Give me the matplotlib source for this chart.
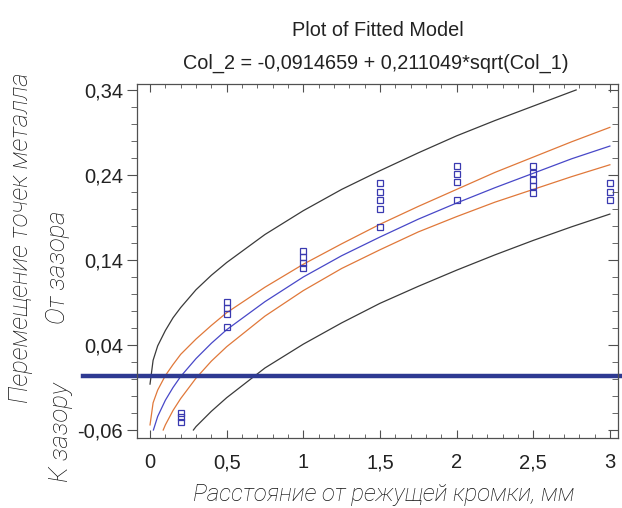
import matplotlib
matplotlib.use("Agg")
import matplotlib.pyplot as plt
from matplotlib.ticker import FixedLocator, MultipleLocator

# measured points (Col_1, Col_2)
pts_x = [0.2, 0.2, 0.2,
         0.5, 0.5, 0.5, 0.5,
         1, 1, 1, 1,
         1.5, 1.5, 1.5, 1.5, 1.5,
         2, 2, 2, 2,
         2.5, 2.5, 2.5, 2.5, 2.5,
         3, 3, 3]
pts_y = [-0.040, -0.045, -0.051,
         0.091, 0.083, 0.076, 0.061,
         0.150, 0.143, 0.137, 0.130,
         0.230, 0.220, 0.210, 0.200, 0.179,
         0.250, 0.241, 0.232, 0.211,
         0.250, 0.242, 0.234, 0.227, 0.219,
         0.230, 0.220, 0.210]

# fitted line
fit_x = [0.022, 0.05, 0.1, 0.15, 0.2, 0.3, 0.4, 0.5, 0.75, 1, 1.25, 1.5, 1.75, 2, 2.25, 2.5, 2.75, 3]
fit_y = [-0.06, -0.044, -0.025, -0.010, 0.003, 0.024, 0.042, 0.058, 0.091, 0.120, 0.145, 0.167,
         0.188, 0.207, 0.225, 0.242, 0.259, 0.274]

# confidence limits (orange)
conf_hi_x = [0, 0.02, 0.05, 0.1, 0.15, 0.2, 0.3, 0.4, 0.5, 0.75, 1, 1.25, 1.5, 1.75, 2, 2.25, 2.5, 2.75, 3]
conf_hi_y = [-0.054, -0.028, -0.013, 0.004, 0.017, 0.029, 0.047, 0.063, 0.078, 0.108, 0.135, 0.159,
             0.182, 0.203, 0.223, 0.243, 0.261, 0.279, 0.296]
conf_lo_x = [0.086, 0.1, 0.15, 0.2, 0.3, 0.4, 0.5, 0.75, 1, 1.25, 1.5, 1.75, 2, 2.25, 2.5, 2.75, 3]
conf_lo_y = [-0.06, -0.054, -0.037, -0.023, 0.001, 0.021, 0.038, 0.074, 0.104, 0.130, 0.152, 0.173,
             0.191, 0.208, 0.223, 0.238, 0.252]

# prediction limits (black)
pred_hi_x = [0, 0.02, 0.05, 0.1, 0.15, 0.2, 0.3, 0.4, 0.5, 0.75, 1, 1.25, 1.5, 1.75, 2, 2.25, 2.5, 2.75, 2.78]
pred_hi_y = [-0.006, 0.022, 0.039, 0.057, 0.072, 0.084, 0.105, 0.122, 0.137, 0.170, 0.198, 0.223,
             0.245, 0.266, 0.286, 0.304, 0.321, 0.338, 0.340]
pred_lo_x = [0.283, 0.3, 0.4, 0.5, 0.75, 1, 1.25, 1.5, 1.75, 2, 2.25, 2.5, 2.75, 3]
pred_lo_y = [-0.06, -0.056, -0.038, -0.022, 0.013, 0.041, 0.066, 0.089, 0.109, 0.128, 0.146, 0.163,
             0.179, 0.194]

zero_line = 0.003

xticks = [0, 0.5, 1, 1.5, 2, 2.5, 3]
xlabels = ["0", "0,5", "1", "1,5", "2", "2,5", "3"]
yticks = [-0.06, 0.04, 0.14, 0.24, 0.34]
ylabels = ["-0,06", "0,04", "0,14", "0,24", "0,34"]

plt.rcParams['font.family'] = ['Liberation Sans', 'DejaVu Sans']
hand = dict(family=['Roboto', 'DejaVu Sans'], style="italic", weight="light",
            color="#111111", ha="center", va="center")

fig = plt.figure(figsize=(6.22, 5.08), dpi=100)
ax = fig.add_axes([137/622, 1-438/508, 481/622, 354/508])
ax.set_xlim(-0.085, 3.053)
ax.set_ylim(-0.0694, 0.347)

ax.plot(pred_hi_x, pred_hi_y, color="#3a3a3a", lw=0.9)
ax.plot(pred_lo_x, pred_lo_y, color="#3a3a3a", lw=0.9)
ax.plot(conf_hi_x, conf_hi_y, color="#e0783a", lw=0.9)
ax.plot(conf_lo_x, conf_lo_y, color="#e0783a", lw=0.9)
ax.plot(fit_x, fit_y, color="#4848c8", lw=0.9)
ax.plot(pts_x, pts_y, ls="none", marker="s", ms=4.3, mfc="none", mec="#3a3ab0", mew=0.9)

ax.axhline(zero_line, xmin=-0.112, xmax=1.01, color="#2e3a92", lw=3.2, clip_on=False)

for s in ax.spines.values():
    s.set_color("#505050")
    s.set_linewidth(0.9)

ax.xaxis.set_major_locator(FixedLocator(xticks))
ax.set_xticklabels(xlabels)
ax.xaxis.set_minor_locator(MultipleLocator(0.1))
ax.yaxis.set_major_locator(FixedLocator(yticks))
ax.set_yticklabels(ylabels)
ax.yaxis.set_minor_locator(MultipleLocator(0.02))
ax.tick_params(axis='x', which='both', direction='in', top=True, colors="#505050",
               labelcolor="#222222", labelsize=14.5, pad=11)
ax.tick_params(axis='x', which='major', length=6)
ax.tick_params(axis='x', which='minor', length=3)
ax.tick_params(axis='y', which='both', direction='out', colors="#505050",
               labelcolor="#222222", labelsize=14.5, pad=3)
ax.tick_params(axis='y', which='major', length=7)
ax.tick_params(axis='y', which='minor', length=4)

ax2 = ax.twinx()
ax2.set_ylim(ax.get_ylim())
ax2.yaxis.set_major_locator(FixedLocator(yticks))
ax2.yaxis.set_minor_locator(MultipleLocator(0.02))
ax2.tick_params(axis='y', which='both', direction='in', colors="#505050", labelright=False)
ax2.tick_params(axis='y', which='major', length=7)
ax2.tick_params(axis='y', which='minor', length=4)
for s in ax2.spines.values():
    s.set_visible(False)

fig.text(378/622, 1-30/508, "Plot of Fitted Model", ha="center", va="center",
         fontsize=14.3, color="#222222")
fig.text(376/622, 1-63/508, "Col_2 = -0,0914659 + 0,211049*sqrt(Col_1)", ha="center", va="center",
         fontsize=14.3, color="#222222")

fig.text(384/622, 1-494/508, "Расстояние от режущей кромки, мм", fontsize=17.3, **hand)
fig.text(21/622, 1-238/508, "Перемещение точек металла", rotation=90, fontsize=18.5, **hand)
fig.text(58/622, 1-267/508, "От зазора", rotation=90, fontsize=18.5, **hand)
fig.text(61/622, 1-432/508, "К зазору", rotation=90, fontsize=18.5, **hand)

fig.savefig("out.png", dpi=100)
